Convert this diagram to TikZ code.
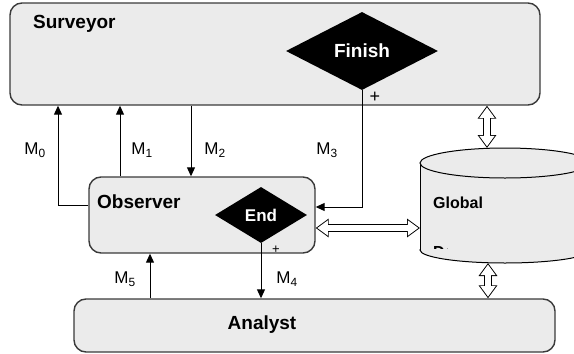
\documentclass[tikz,border=0pt]{standalone}
\usepackage{fontspec}
\setmainfont{Liberation Sans}
\usetikzlibrary{shapes.geometric,arrows.meta}
\definecolor{boxgray}{HTML}{EBEBEB}
\definecolor{edgegray}{HTML}{3A3A3A}
\tikzset{
    box/.style={draw=edgegray, line width=1.4pt, fill=boxgray, rounded corners=12pt, inner sep=0pt},
    decision/.style={diamond, fill=black, text=white, inner sep=0pt, font=\bfseries\fontsize{19}{22}\selectfont},
    title/.style={font=\bfseries\fontsize{19}{22}\selectfont, inner sep=0pt},
    msg/.style={line width=1pt, -{Triangle[length=9pt,width=8pt]}},
    msglabel/.style={font=\fontsize{17}{20}\selectfont, inner sep=0pt},
    dblout/.style={line width=8pt, {Triangle[length=13pt,width=18pt]}-{Triangle[length=13pt,width=18pt]}},
    dblin/.style={white, line width=6pt, shorten <=1.6pt, shorten >=1.6pt, {Triangle[length=10.5pt,width=14.5pt]}-{Triangle[length=10.5pt,width=14.5pt]}},
}
\begin{document}
\begin{tikzpicture}[x=1pt,y=-1pt]
    \useasboundingbox (0,0) rectangle (574,354);

    \node[box, minimum width=530, minimum height=102] (surveyor) at (275,54) {};
    \node[box, minimum width=226, minimum height=76] (observer) at (202,215) {};
    \node[box, minimum width=481, minimum height=53] (analyst) at (314.5,325.5) {};

    \node[title, anchor=west] (surveyortext) at (33,24) {Surveyor};
    \node[title, anchor=west] (observertext) at (97,202) {Observer};
    \node[title] (analysttext) at (262,325) {Analyst};

    \node[decision, minimum width=152, minimum height=78] (finish) at (362,51) {Finish};
    \node[decision, minimum width=92, minimum height=56, font=\bfseries\fontsize{17}{20}\selectfont] (end) at (261,215) {End};

    % global store
    \fill[boxgray, draw=black, line width=1pt] (505,250) ellipse [x radius=85, y radius=13];
    \fill[boxgray] (420,163) rectangle (590,250);
    \draw[line width=1pt] (420,163) -- (420,250);
    \fill[boxgray, draw=black, line width=1pt] (505,163) ellipse [x radius=85, y radius=15];
    \coordinate (globaltop) at (487,148);
    \coordinate (globalbot) at (488,263);
    \coordinate (globalleft) at (420,228);
    \node[title, font=\bfseries\fontsize{16}{19}\selectfont, anchor=west] (globaltext) at (433,203) {Global};
    \begin{scope}
        \clip (430,244) rectangle (447,248.5);
        \node[title, font=\bfseries\fontsize{16}{19}\selectfont, anchor=base west] (datatext) at (433,257) {Data};
    \end{scope}

    \draw[msg] (observer.west |- 0,205) -| (surveyor.south -| 58,0);
    \draw[msg] (observer.north -| 120,0) -- (surveyor.south -| 120,0);
    \draw[msg] (surveyor.south -| 191,0) -- (observer.north -| 191,0);
    \draw[msg] (finish.south) |- (observer.east |- 0,207);
    \draw[msg] (end.south) -- (analyst.north -| end.south);
    \draw[msg] (analyst.north -| 150,0) -- (observer.south -| 150,0);

    % hollow double arrows
    \draw[dblout] (surveyor.south -| globaltop) -- (globaltop);
    \draw[dblin] (surveyor.south -| globaltop) -- (globaltop);
    \draw[dblout] (globalbot) -- (analyst.north -| globalbot);
    \draw[dblin] (globalbot) -- (analyst.north -| globalbot);
    \draw[dblout] (observer.east |- globalleft) -- (globalleft);
    \draw[dblin] (observer.east |- globalleft) -- (globalleft);

    \node[msglabel] (m0) at (35,150) {M\textsubscript{0}};
    \node[msglabel] (m1) at (142,150) {M\textsubscript{1}};
    \node[msglabel] (m2) at (215,150) {M\textsubscript{2}};
    \node[msglabel] (m3) at (327,150) {M\textsubscript{3}};
    \node[msglabel] (m4) at (287,279) {M\textsubscript{4}};
    \node[msglabel] (m5) at (125,279) {M\textsubscript{5}};

    \node[font=\fontsize{18}{20}\selectfont, inner sep=0pt] (finishplus) at (375,97) {+};
    \node[font=\fontsize{13}{15}\selectfont, inner sep=0pt] (endplus) at (276,250) {+};
\end{tikzpicture}
\end{document}
